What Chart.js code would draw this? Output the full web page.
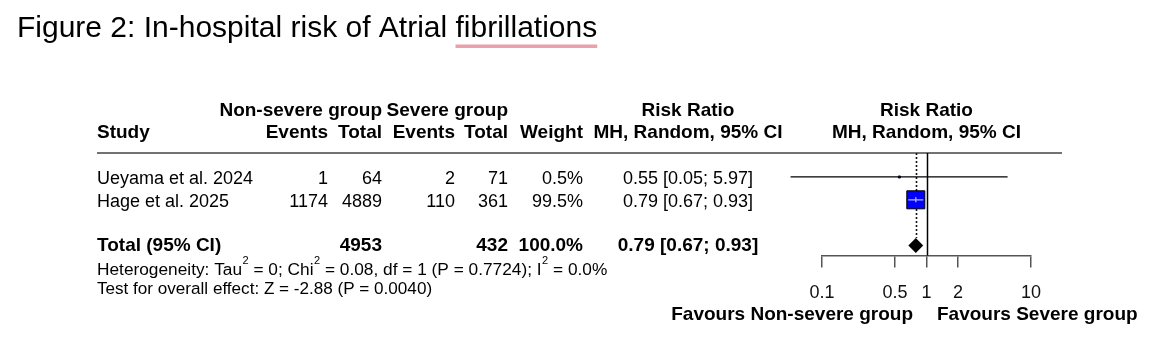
<!DOCTYPE html>
<html>
<head>
<meta charset="utf-8">
<script src="https://cdn.jsdelivr.net/npm/chart.js@4.4.1/dist/chart.umd.min.js"></script>
<style>
html,body{margin:0;padding:0;background:#fff;}
#wrap{position:relative;width:1150px;height:342px;}
</style>
</head>
<body>
<div id="wrap"><canvas id="c" width="1150" height="342"></canvas></div>
<script>
// ---------------- data ----------------
const studies = ['Ueyama et al. 2024', 'Hage et al. 2025'];
const eventsNonSevere = [1, 1174];
const totalNonSevere = [64, 4889];
const eventsSevere = [2, 110];
const totalSevere = [71, 361];
const weights = [0.5, 99.5];
const riskRatio = [0.55, 0.79];
const ciLower = [0.05, 0.67];
const ciUpper = [5.97, 0.93];
const studyRows = [1, 2];
const pooledRow = 4;
const pooledRR = [0.79];
const pooledLower = [0.67];
const pooledUpper = [0.93];
const pooledWeight = [100.0];
const tickValues = [0.1, 0.5, 1, 2, 10];
const hetTau2 = '0';
const hetChi2 = '0.08';
const hetDf = '1';
const hetP = '0.7724';
const hetI2 = '0.0%';
const overallZ = '-2.88';
const overallP = '0.0040';

// ---------------- styling constants ----------------
const FONT = '"Liberation Sans", Arial, Helvetica, sans-serif';
const MAX_BOX = 18;
const MIN_BOX = 2;
const DIAMOND_HALF = 7.5;
const maxW = Math.max(...weights);
const boxSide = i => Math.max(MIN_BOX, MAX_BOX * Math.sqrt(weights[i] / maxW));

function fmt2(v) { return v.toFixed(2); }
function ciText(rr, lo, hi) { return fmt2(rr) + ' [' + fmt2(lo) + '; ' + fmt2(hi) + ']'; }

function txt(ctx, s, x, y, align, size, bold, base) {
  ctx.font = (bold ? 'bold ' : '') + size + 'px ' + FONT;
  ctx.textAlign = align;
  ctx.textBaseline = base || 'middle';
  ctx.fillStyle = '#000';
  ctx.fillText(s, x, y);
}

function supLine(ctx, parts, x, yBase, size) {
  let cx = x;
  ctx.fillStyle = '#000';
  ctx.textAlign = 'left';
  ctx.textBaseline = 'alphabetic';
  parts.forEach(p => {
    if (p.sup) {
      ctx.font = Math.round(size * 0.65) + 'px ' + FONT;
      ctx.fillText(p.t, cx + 0.5, yBase - size * 0.6);
      cx += ctx.measureText(p.t).width + 0.5;
    } else {
      ctx.font = size + 'px ' + FONT;
      ctx.fillText(p.t, cx, yBase);
      cx += ctx.measureText(p.t).width;
    }
  });
}

const forestPlugin = {
  id: 'forest',
  beforeDatasetsDraw(chart) {
    const { ctx, chartArea, scales: { x, y } } = chart;
    ctx.save();
    // header rule
    ctx.strokeStyle = '#444';
    ctx.lineWidth = 1.5;
    ctx.beginPath();
    ctx.moveTo(97, chartArea.top);
    ctx.lineTo(1062, chartArea.top);
    ctx.stroke();
    // line of no effect
    const x1 = Math.round(x.getPixelForValue(1)) + 0.5;
    ctx.strokeStyle = '#000';
    ctx.lineWidth = 1.5;
    ctx.beginPath();
    ctx.moveTo(x1, chartArea.top);
    ctx.lineTo(x1, chartArea.bottom);
    ctx.stroke();
    // pooled estimate dotted line
    const xp = Math.round(x.getPixelForValue(pooledRR[0])) + 0.5;
    const yd = y.getPixelForValue(pooledRow) - DIAMOND_HALF;
    ctx.setLineDash([2, 2]);
    ctx.strokeStyle = '#111';
    ctx.lineWidth = 1.6;
    ctx.beginPath();
    ctx.moveTo(xp, chartArea.top);
    ctx.lineTo(xp, yd);
    ctx.stroke();
    ctx.restore();
  },
  afterDatasetsDraw(chart) {
    const { ctx, scales: { x, y } } = chart;
    ctx.save();
    // CI inside box drawn in a light colour
    studies.forEach((s, i) => {
      const cx = x.getPixelForValue(riskRatio[i]);
      const cy = y.getPixelForValue(studyRows[i]);
      const half = boxSide(i) / 2;
      const xl = x.getPixelForValue(ciLower[i]);
      const xh = x.getPixelForValue(ciUpper[i]);
      if (xl >= cx - half && xh <= cx + half) {
        ctx.strokeStyle = '#b4b8ff';
        ctx.lineWidth = 1.3;
        ctx.beginPath();
        ctx.moveTo(xl, cy);
        ctx.lineTo(xh, cy);
        ctx.moveTo(cx, cy - 2.5);
        ctx.lineTo(cx, cy + 2.5);
        ctx.stroke();
      }
    });
    // pooled diamond
    const yc = y.getPixelForValue(pooledRow);
    const xl = x.getPixelForValue(pooledLower[0]);
    const xm = x.getPixelForValue(pooledRR[0]);
    const xh = x.getPixelForValue(pooledUpper[0]);
    ctx.fillStyle = '#000';
    ctx.beginPath();
    ctx.moveTo(xl, yc);
    ctx.lineTo(xm, yc - DIAMOND_HALF);
    ctx.lineTo(xh, yc);
    ctx.lineTo(xm, yc + DIAMOND_HALF);
    ctx.closePath();
    ctx.fill();
    ctx.restore();
  },
  afterDraw(chart) {
    const { ctx, scales: { x, y } } = chart;
    ctx.save();
    // title
    const tPre = 'Figure 2: In-hospital risk of Atrial ';
    const tWord = 'fibrillations';
    const TS = 30;
    ctx.font = TS + 'px ' + FONT;
    const preW = ctx.measureText(tPre).width;
    const wordW = ctx.measureText(tWord).width;
    ctx.fillStyle = '#eaa1ac';
    ctx.fillRect(17 + preW, 44.5, wordW, 3.5);
    txt(ctx, tPre + tWord, 17, 37, 'left', TS, false, 'alphabetic');

    // column headers
    const hy1 = 111, hy2 = 133, HB = 19;
    txt(ctx, 'Non-severe group', 382, hy1, 'right', HB, true);
    txt(ctx, 'Severe group', 508, hy1, 'right', HB, true);
    txt(ctx, 'Risk Ratio', 688, hy1, 'center', HB, true);
    const xOne = x.getPixelForValue(1);
    txt(ctx, 'Risk Ratio', xOne, hy1, 'center', HB, true);
    txt(ctx, 'Study', 97, hy2, 'left', HB, true);
    txt(ctx, 'Events', 328, hy2, 'right', HB, true);
    txt(ctx, 'Total', 382, hy2, 'right', HB, true);
    txt(ctx, 'Events', 455, hy2, 'right', HB, true);
    txt(ctx, 'Total', 508, hy2, 'right', HB, true);
    txt(ctx, 'Weight', 583, hy2, 'right', HB, true);
    txt(ctx, 'MH, Random, 95% CI', 688, hy2, 'center', HB, true);
    txt(ctx, 'MH, Random, 95% CI', xOne, hy2, 'center', HB, true);

    // study rows
    studies.forEach((s, i) => {
      const ry = y.getPixelForValue(studyRows[i]) + 1.8;
      txt(ctx, s, 97, ry, 'left', 18, false);
      txt(ctx, String(eventsNonSevere[i]), 328, ry, 'right', 18, false);
      txt(ctx, String(totalNonSevere[i]), 382, ry, 'right', 18, false);
      txt(ctx, String(eventsSevere[i]), 455, ry, 'right', 18, false);
      txt(ctx, String(totalSevere[i]), 508, ry, 'right', 18, false);
      txt(ctx, weights[i].toFixed(1) + '%', 583, ry, 'right', 18, false);
      txt(ctx, ciText(riskRatio[i], ciLower[i], ciUpper[i]), 688, ry, 'center', 18, false);
    });

    // total row
    const ty = y.getPixelForValue(pooledRow) + 0.8;
    const sumNon = totalNonSevere.reduce((a, b) => a + b, 0);
    const sumSev = totalSevere.reduce((a, b) => a + b, 0);
    txt(ctx, 'Total (95% CI)', 97, ty, 'left', HB, true);
    txt(ctx, String(sumNon), 382, ty, 'right', HB, true);
    txt(ctx, String(sumSev), 508, ty, 'right', HB, true);
    txt(ctx, pooledWeight[0].toFixed(1) + '%', 583, ty, 'right', HB, true);
    txt(ctx, ciText(pooledRR[0], pooledLower[0], pooledUpper[0]), 688, ty, 'center', HB, true);

    // heterogeneity + overall effect
    supLine(ctx, [
      { t: 'Heterogeneity: Tau' }, { t: '2', sup: true },
      { t: ' = ' + hetTau2 + '; Chi' }, { t: '2', sup: true },
      { t: ' = ' + hetChi2 + ', df = ' + hetDf + ' (P = ' + hetP + '); I' }, { t: '2', sup: true },
      { t: ' = ' + hetI2 }
    ], 97, 274.5, 17.3);
    supLine(ctx, [{ t: 'Test for overall effect: Z = ' + overallZ + ' (P = ' + overallP + ')' }], 97, 293.5, 17.1);

    // favours labels
    txt(ctx, 'Favours Non-severe group', xOne - 13.5, 315, 'right', HB, true);
    txt(ctx, 'Favours Severe group', xOne + 10.5, 315, 'left', HB, true);
    ctx.restore();
  }
};

// ---------------- datasets ----------------
const ciDatasets = studies.map((s, i) => ({
  type: 'line',
  label: s + ' CI',
  data: [{ x: ciLower[i], y: studyRows[i] }, { x: ciUpper[i], y: studyRows[i] }],
  borderColor: '#000',
  borderWidth: 1.2,
  pointRadius: 0,
  clip: false,
  order: 3
}));

const boxDataset = {
  type: 'scatter',
  label: 'Studies',
  data: studies.map((s, i) => ({ x: riskRatio[i], y: studyRows[i] })),
  pointStyle: 'rect',
  pointRadius: ctx => boxSide(ctx.dataIndex) / (2 * Math.SQRT1_2),
  pointHoverRadius: ctx => boxSide(ctx.dataIndex) / (2 * Math.SQRT1_2),
  backgroundColor: '#0000ff',
  borderColor: '#000',
  borderWidth: 1,
  clip: false,
  order: 1
};

new Chart(document.getElementById('c'), {
  data: { datasets: [...ciDatasets, boxDataset] },
  plugins: [forestPlugin],
  options: {
    responsive: false,
    animation: false,
    events: [],
    layout: { padding: { left: 822, right: 119, top: 153, bottom: 0 } },
    plugins: { legend: { display: false }, tooltip: { enabled: false }, title: { display: false } },
    scales: {
      x: {
        type: 'logarithmic',
        min: 0.1,
        max: 10,
        position: 'bottom',
        afterBuildTicks: scale => { scale.ticks = tickValues.map(v => ({ value: v })); },
        afterFit: scale => { scale.height = 86.5; },
        ticks: {
          autoSkip: false,
          maxRotation: 0,
          minRotation: 0,
          padding: 14.7,
          color: '#111',
          font: { family: FONT, size: 18 },
          callback: v => String(v)
        },
        grid: { display: true, drawOnChartArea: false, drawTicks: true, tickLength: 12, color: '#555', lineWidth: 1.5 },
        border: { display: true, color: '#555', width: 1.5 }
      },
      y: {
        type: 'linear',
        display: false,
        reverse: true,
        min: -0.05,
        max: 4.44
      }
    }
  }
});
</script>
</body>
</html>
